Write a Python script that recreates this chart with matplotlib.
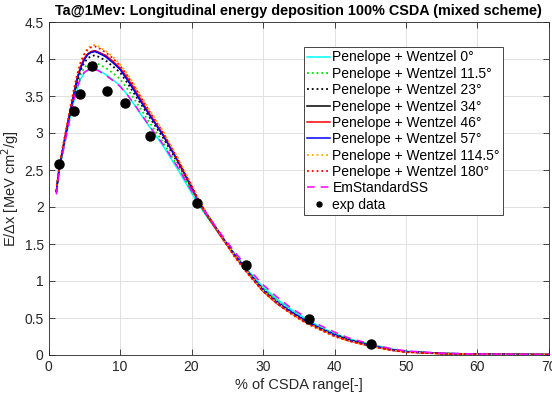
import matplotlib
matplotlib.use("Agg")
import matplotlib.pyplot as plt

plt.rcParams['font.family'] = ['Liberation Sans', 'DejaVu Sans']

x_pct = [1.1, 1.5, 2, 2.5, 3, 3.5, 4, 4.5, 5, 5.5, 6, 6.5, 7, 8, 9, 10, 11, 12, 13, 14,
         16, 18, 20, 21, 22, 24, 26, 28, 30, 32, 34, 36, 38, 40, 42, 45, 48, 50, 55, 60, 65, 70]

pw_0 = [2.20, 2.50, 2.74, 2.97, 3.20, 3.41, 3.59, 3.73, 3.81, 3.85, 3.87, 3.87, 3.85, 3.79, 3.72, 3.64, 3.52, 3.38, 3.24, 3.10,
        2.83, 2.52, 2.19, 2.03, 1.89, 1.62, 1.37, 1.13, 0.92, 0.75, 0.61, 0.49, 0.38, 0.29, 0.22, 0.14, 0.08, 0.05, 0.022, 0.013, 0.008, 0.006]
pw_11_5 = [2.20, 2.51, 2.76, 2.99, 3.23, 3.45, 3.64, 3.79, 3.88, 3.93, 3.95, 3.95, 3.93, 3.88, 3.81, 3.73, 3.60, 3.46, 3.31, 3.16,
           2.88, 2.56, 2.22, 2.05, 1.90, 1.62, 1.36, 1.12, 0.90, 0.73, 0.59, 0.47, 0.37, 0.28, 0.21, 0.14, 0.075, 0.048, 0.021, 0.013, 0.008, 0.006]
pw_23 = [2.21, 2.52, 2.77, 3.01, 3.26, 3.48, 3.69, 3.85, 3.95, 4.01, 4.04, 4.05, 4.03, 3.98, 3.90, 3.82, 3.68, 3.53, 3.38, 3.23,
         2.94, 2.61, 2.25, 2.07, 1.91, 1.63, 1.36, 1.11, 0.89, 0.72, 0.58, 0.46, 0.36, 0.28, 0.21, 0.13, 0.07, 0.046, 0.02, 0.012, 0.008, 0.006]
pw_34 = [2.21, 2.53, 2.79, 3.03, 3.28, 3.51, 3.73, 3.89, 4.00, 4.07, 4.10, 4.11, 4.09, 4.04, 3.96, 3.87, 3.73, 3.58, 3.42, 3.27,
         2.98, 2.64, 2.27, 2.08, 1.92, 1.63, 1.35, 1.10, 0.87, 0.70, 0.57, 0.45, 0.35, 0.27, 0.20, 0.13, 0.07, 0.044, 0.02, 0.012, 0.008, 0.006]
pw_46 = [2.21, 2.53, 2.79, 3.04, 3.29, 3.52, 3.74, 3.90, 4.01, 4.07, 4.10, 4.11, 4.09, 4.05, 3.97, 3.88, 3.75, 3.60, 3.44, 3.28,
         2.98, 2.63, 2.26, 2.07, 1.91, 1.62, 1.34, 1.09, 0.86, 0.69, 0.56, 0.44, 0.35, 0.26, 0.19, 0.12, 0.065, 0.04, 0.018, 0.011, 0.007, 0.005]
pw_57 = [2.21, 2.52, 2.78, 3.02, 3.27, 3.50, 3.72, 3.88, 3.99, 4.06, 4.09, 4.10, 4.08, 4.03, 3.95, 3.86, 3.72, 3.57, 3.41, 3.26,
         2.97, 2.64, 2.28, 2.09, 1.93, 1.64, 1.36, 1.11, 0.88, 0.71, 0.58, 0.46, 0.36, 0.27, 0.20, 0.13, 0.07, 0.045, 0.02, 0.012, 0.008, 0.006]
pw_114_5 = [2.22, 2.55, 2.82, 3.07, 3.33, 3.57, 3.80, 3.97, 4.08, 4.15, 4.18, 4.19, 4.17, 4.11, 4.03, 3.93, 3.80, 3.65, 3.49, 3.33,
            3.03, 2.68, 2.31, 2.11, 1.94, 1.64, 1.35, 1.10, 0.87, 0.70, 0.56, 0.44, 0.35, 0.26, 0.19, 0.12, 0.065, 0.04, 0.018, 0.011, 0.007, 0.005]
pw_180 = [2.22, 2.55, 2.81, 3.06, 3.32, 3.56, 3.78, 3.95, 4.06, 4.13, 4.16, 4.17, 4.15, 4.09, 4.01, 3.91, 3.78, 3.63, 3.47, 3.31,
          3.01, 2.66, 2.29, 2.09, 1.92, 1.62, 1.33, 1.08, 0.86, 0.69, 0.55, 0.43, 0.34, 0.25, 0.19, 0.12, 0.062, 0.038, 0.017, 0.010, 0.007, 0.005]
em_ss = [2.17, 2.48, 2.73, 2.97, 3.20, 3.42, 3.61, 3.75, 3.82, 3.85, 3.86, 3.86, 3.84, 3.78, 3.71, 3.63, 3.52, 3.39, 3.25, 3.11,
         2.85, 2.55, 2.22, 2.06, 1.92, 1.65, 1.40, 1.16, 0.95, 0.78, 0.63, 0.51, 0.40, 0.31, 0.23, 0.15, 0.085, 0.055, 0.025, 0.014, 0.009, 0.006]

exp_x = [1.5, 3.6, 4.4, 6.1, 8.2, 10.7, 14.2, 20.8, 27.6, 36.4, 45.1]
exp_y = [2.58, 3.30, 3.53, 3.90, 3.57, 3.40, 2.96, 2.05, 1.21, 0.48, 0.15]

series = [
    ("Penelope + Wentzel 0\u00b0", pw_0, "#00FFFF", "-"),
    ("Penelope + Wentzel 11.5\u00b0", pw_11_5, "#00E000", ":"),
    ("Penelope + Wentzel 23\u00b0", pw_23, "#000000", ":"),
    ("Penelope + Wentzel 34\u00b0", pw_34, "#000000", "-"),
    ("Penelope + Wentzel 46\u00b0", pw_46, "#FF0000", "-"),
    ("Penelope + Wentzel 57\u00b0", pw_57, "#0000FF", "-"),
    ("Penelope + Wentzel 114.5\u00b0", pw_114_5, "#FFA500", ":"),
    ("Penelope + Wentzel 180\u00b0", pw_180, "#FF0000", ":"),
    ("EmStandardSS", em_ss, "#FF00FF", "--"),
]

fig = plt.figure(figsize=(5.52, 3.98), dpi=100)
ax = fig.add_axes([48.5 / 552, 1 - 355 / 398, 500.5 / 552, 333 / 398])

for label, y, c, ls in series:
    lw = 1.3 if ls == ":" else 1.1
    if ls == "--":
        ax.plot(x_pct, y, color=c, linestyle=(0, (5, 4)), linewidth=1.1, label=label)
    else:
        ax.plot(x_pct, y, color=c, linestyle=ls, linewidth=lw, label=label)

ax.plot(exp_x, exp_y, "o", color="black", markersize=6.5, linestyle="none", label="exp data")

ax.set_xlim(0, 70)
ax.set_ylim(0, 4.5)
ax.set_xticks(range(0, 71, 10))
ax.set_yticks([0, 0.5, 1, 1.5, 2, 2.5, 3, 3.5, 4, 4.5])
ax.set_yticklabels(["0", "0.5", "1", "1.5", "2", "2.5", "3", "3.5", "4", "4.5"])
ax.grid(True, color="#dcdcdc", linewidth=0.6)
ax.set_axisbelow(True)
ax.tick_params(direction="in", top=True, right=True, length=4, width=0.6,
               labelsize=10, colors="#262626")
for s in ax.spines.values():
    s.set_color("#262626")
    s.set_linewidth(0.6)

ax.set_xlabel("% of CSDA range[-]", fontsize=10.5, color="#262626", labelpad=3)
ax.set_ylabel("E/\u0394x [MeV cm$^2$/g]", fontsize=10.5, color="#262626", labelpad=2)
ax.set_title("Ta@1Mev: Longitudinal energy deposition 100% CSDA (mixed scheme)",
             fontsize=10.4, fontweight="bold", pad=5)

leg = ax.legend(loc="upper left", bbox_to_anchor=(0.5105, 0.925), borderaxespad=0,
                fontsize=10, frameon=True, fancybox=False, edgecolor="#262626",
                framealpha=1, handlelength=1.6, handletextpad=0.2, labelspacing=0.17,
                borderpad=0.25, markerscale=0.55)
leg.get_frame().set_linewidth(0.6)

fig.savefig("out.png", dpi=100)
